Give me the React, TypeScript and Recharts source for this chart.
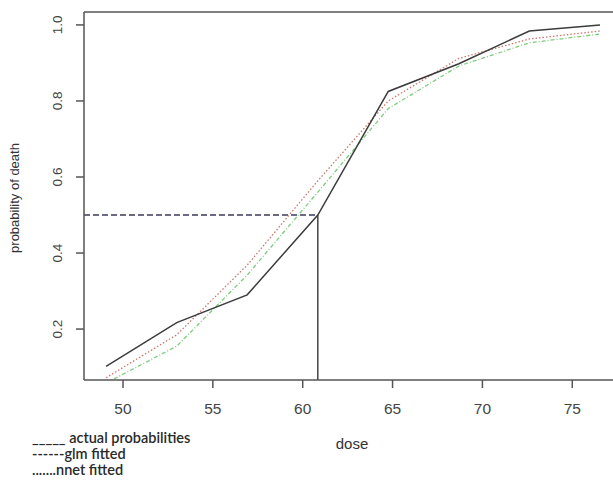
import React from "react";
import { LineChart, Line, XAxis, YAxis, ReferenceLine } from "recharts";

const doses = [49.06, 52.99, 56.91, 60.84, 64.76, 68.69, 72.61, 76.54];
const actual = [0.102, 0.217, 0.29, 0.5, 0.825, 0.898, 0.984, 1.0];
const glmFitted = [0.072, 0.185, 0.368, 0.59, 0.8, 0.912, 0.963, 0.984];
const nnetFitted = [0.058, 0.155, 0.342, 0.56, 0.78, 0.892, 0.953, 0.976];
const xTicks = [50, 55, 60, 65, 70, 75];
const yTicks = [0.2, 0.4, 0.6, 0.8, 1.0];
const xDomain = [47.83, 77.6];
const yDomain = [0.066, 1.034];
const ld50Dose = 60.84;
const ld50Prob = 0.5;
const legendItems = ["_____ actual probabilities", "------glm fitted", ".......nnet fitted"];

const data = doses.map((d, i) => ({
  dose: d,
  actual: actual[i],
  glm: glmFitted[i],
  nnet: nnetFitted[i],
}));

const FONT = "'Liberation Sans', Arial, sans-serif";
const AXIS = "#555";

const YTick = (props: any) => {
  const { y, payload } = props;
  const x = 58;
  return (
    <text
      x={x}
      y={y}
      transform={`rotate(-90, ${x}, ${y})`}
      textAnchor="middle"
      dominantBaseline="central"
      fontSize={13.5}
      fontFamily={FONT}
      fill="#444"
    >
      {Number(payload.value).toFixed(1)}
    </text>
  );
};

const XTick = (props: any) => {
  const { x, payload } = props;
  return (
    <text
      x={x}
      y={408}
      textAnchor="middle"
      dominantBaseline="central"
      fontSize={15.5}
      fontFamily={FONT}
      fill="#444"
    >
      {payload.value}
    </text>
  );
};

export default function App() {
  return (
    <div style={{ position: "absolute", left: 0, top: 0, width: 613, height: 481, overflow: "hidden", background: "#fff" }}>
      <LineChart
        width={625}
        height={481}
        data={data}
        margin={{ top: 12, right: 6, bottom: 71, left: 0 }}
      >
        <XAxis
          dataKey="dose"
          type="number"
          domain={xDomain}
          ticks={xTicks}
          allowDataOverflow
          height={30}
          tickSize={8}
          stroke={AXIS}
          strokeWidth={1.5}
          tickLine={{ stroke: AXIS, strokeWidth: 1.5 }}
          tick={<XTick />}
        />
        <YAxis
          type="number"
          domain={yDomain}
          ticks={yTicks}
          allowDataOverflow
          width={84}
          tickSize={8}
          stroke={AXIS}
          strokeWidth={1.5}
          tickLine={{ stroke: AXIS, strokeWidth: 1.5 }}
          tick={<YTick />}
        />
        <ReferenceLine y={yDomain[1]} stroke={AXIS} strokeWidth={1.5} ifOverflow="visible" />
        <ReferenceLine
          segment={[
            { x: xDomain[0], y: ld50Prob },
            { x: ld50Dose, y: ld50Prob },
          ]}
          stroke="#6a6a84"
          strokeWidth={2}
          strokeDasharray="6 3"
        />
        <ReferenceLine
          segment={[
            { x: ld50Dose, y: ld50Prob },
            { x: ld50Dose, y: yDomain[0] },
          ]}
          stroke="#444"
          strokeWidth={1.5}
        />
        <Line
          dataKey="nnet"
          stroke="#7ccc7c"
          strokeWidth={1.3}
          strokeDasharray="4 2 1 2"
          dot={false}
          isAnimationActive={false}
        />
        <Line
          dataKey="glm"
          stroke="#c8786c"
          strokeWidth={1.3}
          strokeDasharray="1.5 2"
          dot={false}
          isAnimationActive={false}
        />
        <Line
          dataKey="actual"
          stroke="#3c3c3c"
          strokeWidth={1.5}
          dot={false}
          isAnimationActive={false}
        />
      </LineChart>
      <div
        style={{
          position: "absolute",
          left: 352,
          top: 443,
          transform: "translate(-50%, -50%)",
          fontFamily: FONT,
          fontSize: 15,
          color: "#333",
        }}
      >
        dose
      </div>
      <div
        style={{
          position: "absolute",
          left: 14,
          top: 198,
          transform: "translate(-50%, -50%) rotate(-90deg)",
          fontFamily: FONT,
          fontSize: 13,
          color: "#333",
          whiteSpace: "nowrap",
        }}
      >
        probability of death
      </div>
      <div
        style={{
          position: "absolute",
          left: 32,
          top: 430,
          fontFamily: "Lato, 'Open Sans', sans-serif",
          fontSize: 14.5,
          fontWeight: 600,
          lineHeight: "16px",
          color: "#2a2a2a",
          whiteSpace: "pre",
        }}
      >
        {legendItems.map((t) => (
          <div key={t}>{t}</div>
        ))}
      </div>
    </div>
  );
}
